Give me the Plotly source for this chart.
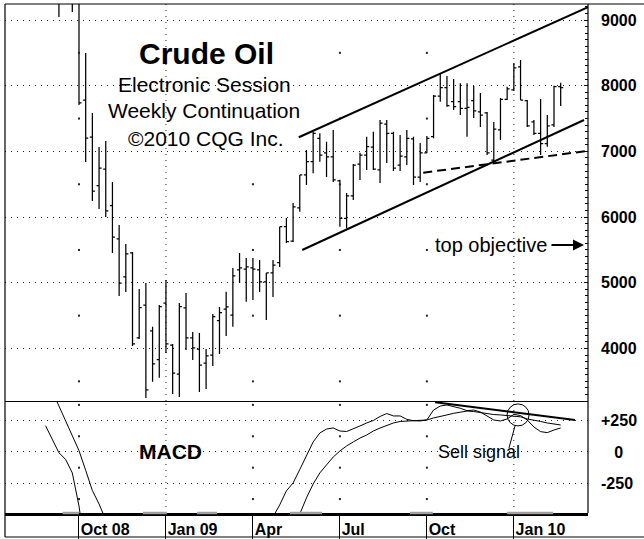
import pandas as pd
import plotly.graph_objects as go

W, H = 644, 539
FONT = "Liberation Sans, Arial, sans-serif"

# ---------------- data ----------------
# weekly bars, dated by the Monday of the week (first entry = week of 2008-09-01)
week_dates = [d.strftime("%Y-%m-%d") for d in pd.date_range("2008-09-01", periods=78, freq="7D")]

# OHLC (in cents, i.e. 9000 = $90.00) starting with the week of 2008-09-15
bar_open = [10200, 10455, 10590, 9388, 7780, 7219, 6478, 6732, 6174, 5667,
            5089, 5454, 4160, 4662, 4267, 3830, 4692, 4053, 3612, 4617,
            4160, 3992, 3779, 3901, 4425, 4601, 4510, 5195, 5210, 5226,
            5195, 5013, 5150, 5306, 5854, 5636, 6139, 6641, 6843, 7200,
            6976, 6915, 6550, 5982, 6322, 6808, 6945, 7067, 6717, 7417,
            7275, 6793, 6915, 7189, 6610, 6976, 7224, 7843, 7970, 7757,
            7757, 7656, 7772, 7600, 7585, 6869, 7326, 7793, 7935, 8285,
            7772, 7448, 7275, 7119, 7402, 7985]
bar_high = [10480, 11000, 10700, 9450, 8498, 7585, 7067, 7158, 6534, 5880,
            5591, 5469, 4906, 4997, 4331, 4662, 5043, 4069, 4693, 4845,
            4252, 4236, 3992, 4525, 4632, 4865, 5226, 5454, 5378, 5378,
            5348, 5150, 5348, 5854, 5986, 6215, 6641, 7021, 7300, 7275,
            7148, 7326, 6570, 6367, 6808, 6980, 7224, 7300, 7478, 7478,
            7300, 7250, 7326, 7224, 7128, 7234, 7858, 8193, 8148, 8102,
            8037, 8037, 8000, 7888, 7600, 7448, 7813, 7985, 8346, 8391,
            7782, 7478, 7798, 7554, 8000, 8046]
bar_low = [9046, 10150, 9122, 7706, 6839, 6245, 6123, 6002, 5454, 4800,
           4860, 4038, 4145, 3247, 3493, 3553, 3932, 3308, 3262, 3977,
           3826, 3338, 3384, 3734, 3916, 4190, 4333, 4997, 4713, 4738,
           4860, 4434, 4784, 5241, 5605, 5621, 6082, 6489, 6667, 6843,
           6610, 6534, 5854, 5830, 6260, 6565, 6717, 6717, 6519, 6824,
           6702, 6700, 6793, 6489, 6534, 6976, 7200, 7756, 7680, 7630,
           7554, 7224, 7508, 7371, 6945, 6824, 7174, 7782, 7920, 7782,
           7371, 7250, 6945, 7072, 7371, 7691]
bar_close = [10455, 10590, 9388, 7740, 7204, 6397, 6747, 6093, 5697, 4997,
             5439, 4069, 4621, 3369, 3765, 4637, 4069, 3627, 4637, 4160,
             4008, 3749, 3886, 4485, 4545, 4632, 5104, 5226, 5241, 5210,
             5013, 5150, 5271, 5854, 5626, 6154, 6641, 6843, 7275, 6945,
             6915, 6565, 5982, 6322, 6793, 6945, 7072, 6732, 7432, 7275,
             6747, 6930, 7200, 6610, 6976, 7200, 7843, 7970, 7696, 7681,
             7656, 7671, 7615, 7554, 6976, 7341, 7793, 7950, 8270, 7782,
             7387, 7275, 7119, 7387, 7985, 7970]

# MACD and its signal line, one value per week of week_dates (None = outside panel)
macd = ([209, 101, -6, -59, -167, -430, -800] + [None] * 27 +
        [-517, -422, -310, -247, -140, -25, 80, 151, 183, 191,
         167, 163, 183, 207, 231, 251, 283, 306, 287, 287,
         260, 249, 247, 255, 334, 366, 374, 362, 348, 329,
         334, 318, 287, 255, 247, 263, 300, 290, 255, 199,
         162, 154, 175, 191])
signal = ([None, 485, 365, 247, 139, 11, -146, -307, -414, -541] + [None] * 28 +
          [-494, -366, -255, -167, -103, -40, 8, 48, 80, 111,
           135, 167, 191, 211, 231, 243, 247, 249, 251, 255,
           271, 281, 295, 308, 318, 326, 322, 313, 305, 298,
           295, 291, 287, 280, 263, 255, 243, 231, 223, 215])

# axis ticks
price_ticks = [4000, 5000, 6000, 7000, 8000, 9000]
macd_ticks = [-250, 0, 250]
macd_tick_text = ["-250", "\u00a0\u00a0\u00a00", "+250"]
quarter_dates = ["2008-10-06", "2009-01-05", "2009-04-06", "2009-07-06", "2009-10-05", "2010-01-04"]
quarter_labels = ["Oct 08", "Jan 09", "Apr", "Jul", "Oct", "Jan 10"]
year_dates = ["2009-01-05", "2010-01-04"]
minor_quarters = ["2008-10-06", "2009-04-06", "2009-07-06", "2009-10-05"]
price_half_levels = [3500, 4500, 5500, 6500, 7500, 8500]
macd_half_levels = [-375, -125, 125, 375]

# drawn studies (date, value)
channel_upper = [("2009-05-24", 7215), ("2010-03-22 14:00", 9195)]
channel_lower = [("2009-05-27 14:00", 5499), ("2010-03-18 10:00", 7478)]
support_dashed = [("2009-10-01 05:00", 6676), ("2010-03-21 05:00", 7006)]
macd_trend = [("2009-10-13 14:00", 396), ("2010-03-09", 255)]
sell_signal_point = ("2010-01-08 10:00", 295)
sell_pointer = [("2010-01-05 05:00", 207), ("2009-12-29 22:00", 32)]
top_objective = 5575

# contract-roll shading on the time bar
roll_periods = [("2008-09-19", "2008-10-06"), ("2008-12-12", "2009-01-06"),
                ("2009-02-06 12:00", "2009-02-27 10:00"), ("2009-05-14 19:00", "2009-06-17 07:00"),
                ("2009-09-17 07:00", "2009-10-11 07:00"), ("2009-12-27 19:00", "2010-02-14")]

x_range = ["2008-07-20 14:00", "2010-03-22 14:00"]
price_range = [3201, 9243.5]
macd_range = [-486, 398]


def px(x):
    return x / W


def py(y):
    return 1 - y / H


fig = go.Figure()

fig.add_trace(go.Ohlc(
    x=week_dates[2:], open=bar_open, high=bar_high, low=bar_low, close=bar_close,
    increasing=dict(line=dict(color="black", width=1.25)),
    decreasing=dict(line=dict(color="black", width=1.25)),
    tickwidth=0.38, xaxis="x", yaxis="y", hoverinfo="skip", showlegend=False))

# sparse dotted quarter gridlines
fig.add_trace(go.Scatter(
    x=[d for d in minor_quarters for _ in price_half_levels],
    y=[v for _ in minor_quarters for v in price_half_levels],
    mode="markers", marker=dict(symbol="square", size=2, color="#222", line=dict(width=0)),
    xaxis="x", yaxis="y", hoverinfo="skip", showlegend=False))
fig.add_trace(go.Scatter(
    x=[d for d in minor_quarters for _ in macd_half_levels],
    y=[v for _ in minor_quarters for v in macd_half_levels],
    mode="markers", marker=dict(symbol="square", size=2, color="#222", line=dict(width=0)),
    xaxis="x2", yaxis="y2", hoverinfo="skip", showlegend=False))

fig.add_trace(go.Scatter(x=week_dates, y=macd, mode="lines", line=dict(color="black", width=1),
                         xaxis="x2", yaxis="y2", hoverinfo="skip", showlegend=False))
fig.add_trace(go.Scatter(x=week_dates, y=signal, mode="lines", line=dict(color="black", width=1),
                         xaxis="x2", yaxis="y2", hoverinfo="skip", showlegend=False))

shapes = []
# Year gridlines (dense dots)
for d in year_dates:
    shapes.append(dict(type="line", xref="x", yref="y domain", x0=d, x1=d, y0=0, y1=1,
                       line=dict(color="#222", width=1, dash="1px,5px"), layer="below"))
    shapes.append(dict(type="line", xref="x2", yref="y2 domain", x0=d, x1=d, y0=0, y1=1,
                       line=dict(color="#222", width=1, dash="1px,5px"), layer="below"))

# studies
for seg, dash in ((channel_upper, "solid"), (channel_lower, "solid"), (support_dashed, "9px,5px")):
    shapes.append(dict(type="line", xref="x", yref="y", x0=seg[0][0], y0=seg[0][1],
                       x1=seg[1][0], y1=seg[1][1], line=dict(color="black", width=2, dash=dash)))
shapes.append(dict(type="line", xref="x2", yref="y2", x0=macd_trend[0][0], y0=macd_trend[0][1],
                   x1=macd_trend[1][0], y1=macd_trend[1][1], line=dict(color="black", width=2)))
shapes.append(dict(type="circle", xref="x2", yref="y2", xsizemode="pixel", ysizemode="pixel",
                   xanchor=sell_signal_point[0], yanchor=sell_signal_point[1],
                   x0=-11, x1=11, y0=-11, y1=11, line=dict(color="black", width=1)))
shapes.append(dict(type="line", xref="x2", yref="y2", x0=sell_pointer[0][0], y0=sell_pointer[0][1],
                   x1=sell_pointer[1][0], y1=sell_pointer[1][1], line=dict(color="black", width=1)))

# roll periods on the time bar
for a, b in roll_periods:
    shapes.append(dict(type="line", xref="x2", yref="paper", x0=a, x1=b, y0=py(513), y1=py(513),
                       line=dict(color="#a0a0a0", width=2.5)))

# frame
frame = [(5, 4, 644, 4), (5, 4, 5, 537), (588, 4, 588, 513), (5, 401.5, 588, 401.5), (5, 537, 644, 537)]
for x0, y0, x1, y1 in frame:
    shapes.append(dict(type="line", xref="paper", yref="paper", x0=px(x0), y0=py(y0), x1=px(x1), y1=py(y1),
                       line=dict(color="black", width=1.2)))

annotations = [
    dict(text="Crude Oil", x=px(206.5), y=py(54), font=dict(size=30, weight="bold")),
    dict(text="Electronic Session", x=px(204.5), y=py(84.5), font=dict(size=21)),
    dict(text="Weekly Continuation", x=px(204), y=py(110.8), font=dict(size=21)),
    dict(text="©2010 CQG Inc.", x=px(205.5), y=py(138), font=dict(size=21)),
    dict(text="MACD", x=px(171), y=py(451), font=dict(size=21, weight="bold")),
    dict(text="Sell signal", x=px(479), y=py(452), font=dict(size=18)),
    dict(text="top objective", x=px(433), y=py(245), xanchor="left", font=dict(size=20)),
]
for a in annotations:
    a.setdefault("xanchor", "center")
    a.update(xref="paper", yref="paper", yanchor="middle", showarrow=False)
    a["font"].update(family=FONT, color="black")
annotations.append(dict(x=px(584), y=top_objective, xref="paper", yref="y", text="", showarrow=True,
                        ax=-34, ay=0, axref="pixel", ayref="pixel", arrowhead=2, arrowsize=1.1,
                        arrowwidth=2, arrowcolor="black"))

grid = dict(showgrid=True, gridcolor="#222", gridwidth=1, griddash="1px,5px")
tickfont = dict(family=FONT, size=16, color="black", weight="bold")

fig.update_layout(
    width=W, height=H, margin=dict(l=0, r=0, t=0, b=0),
    paper_bgcolor="white", plot_bgcolor="white",
    showlegend=False, shapes=shapes, annotations=annotations,
    xaxis=dict(domain=[px(5), px(588)], anchor="y", type="date", range=x_range,
               showticklabels=False, showgrid=False, zeroline=False, showline=False, ticks="",
               rangeslider=dict(visible=False)),
    yaxis=dict(domain=[py(401), py(4)], anchor="x", range=price_range, side="right",
               tickvals=price_ticks, ticktext=[str(v) for v in price_ticks], tickfont=tickfont,
               ticks="inside", ticklen=4, tickcolor="black",
               minor=dict(dtick=100, ticks="inside", ticklen=3, tickcolor="black"),
               zeroline=False, showline=False, ticklabelstandoff=12, **grid),
    xaxis2=dict(domain=[px(5), px(588)], anchor="y2", type="date", range=x_range, matches="x",
                tickvals=quarter_dates, ticktext=quarter_labels, tickfont=tickfont,
                ticks="outside", ticklen=23, tickcolor="black", tickwidth=1,
                ticklabelposition="outside right", showgrid=False, zeroline=False,
                showline=True, linecolor="black", linewidth=2.5,
                rangeslider=dict(visible=False)),
    yaxis2=dict(domain=[py(513), py(402)], anchor="x2", range=macd_range, side="right",
                tickvals=macd_ticks, ticktext=macd_tick_text, tickfont=tickfont,
                ticks="", zeroline=False, showline=False, ticklabelstandoff=12, **grid),
)

fig.write_html("out.html", config={"displayModeBar": False},
               post_script="document.body.style.margin='0';document.body.style.overflow='hidden';")
